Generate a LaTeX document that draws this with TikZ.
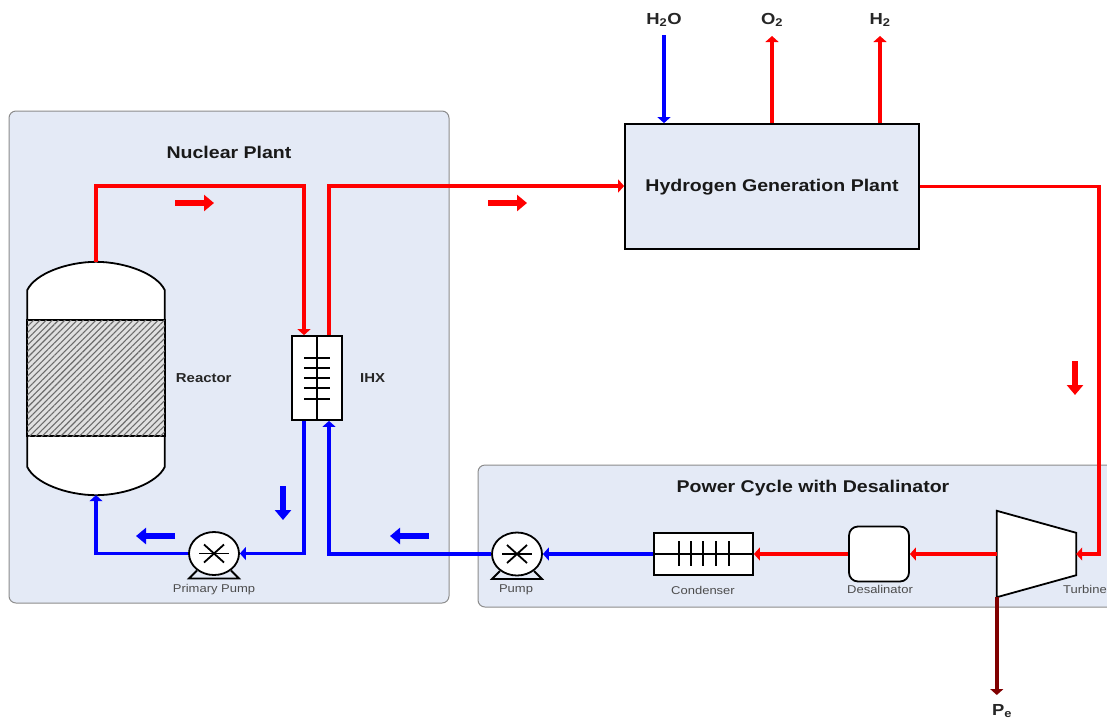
\documentclass[tikz,border=0pt]{standalone}
\usepackage{fontspec}
\setmainfont[FakeStretch=1.15]{Liberation Sans}
\usetikzlibrary{arrows.meta,%
                shapes.geometric,patterns.meta,positioning}
\definecolor{panelblue}{HTML}{E4EAF6}
\definecolor{panelline}{HTML}{8C8C8C}
\definecolor{hotred}{rgb}{1,0,0}
\definecolor{coldblue}{rgb}{0,0,1}
\definecolor{powerred}{HTML}{800000}

\begin{document}
\begin{tikzpicture}[x = 1 pt, y = -1 pt, node distance = 2 pt]
  \useasboundingbox (0,0) rectangle (1107,721);
  \tikzset{PanelStyle/.style = {draw           = panelline,
                                fill           = panelblue,
                                line width     = 1 pt,
                                rounded corners = 7 pt}}
  \tikzset{BoxStyle/.style   = {draw           = black,
                                fill           = white,
                                line width     = 1.8 pt,
                                inner sep      = 0 pt}}
  \tikzset{PumpStyle/.style  = {BoxStyle,
                                shape          = ellipse,
                                minimum width  = 50 pt,
                                minimum height = 43 pt}}
  \tikzset{TitleStyle/.style = {font = \bfseries\fontsize{17}{20}\selectfont,
                                text = black!90, inner sep = 0 pt}}
  \tikzset{NameStyle/.style  = {font = \bfseries\fontsize{13}{16}\selectfont,
                                text = black!85, inner sep = 0 pt}}
  \tikzset{FormulaStyle/.style = {font = \bfseries\fontsize{16}{19}\selectfont,
                                text = black!85, inner sep = 0 pt}}
  \tikzset{SmallStyle/.style = {font = \fontsize{11.3}{13}\selectfont,
                                text = black!70, inner sep = 0 pt}}
  \tikzset{HotPipe/.style    = {draw = hotred, line width = 3.6 pt,
                                -{Triangle[width=13pt,length=6pt]}}}
  \tikzset{ColdPipe/.style   = {HotPipe, draw = coldblue}}
  \tikzset{FlowStyle/.style  = {line width = 6 pt,
                                -{Triangle[width=16pt,length=10pt]}}}

  % panels
  \draw[PanelStyle] (9,111) rectangle (449,603);
  \draw[PanelStyle] (478,465) rectangle (1125,607);
  \node[TitleStyle] (NuclearTitle) at (229,152) {Nuclear Plant};
  \node[TitleStyle] (PowerTitle) at (813,488.5) {Power Cycle with Desalinator};

  % reactor
  \node[minimum width = 137 pt, minimum height = 233 pt, inner sep = 0 pt]
       (Reactor) at (96,378.5) {};
  \draw[BoxStyle] (Reactor.west |- 0,290)
       .. controls (35,274) and (66,262) .. (Reactor.north)
       .. controls (126,262) and (157,274) .. (Reactor.east |- 0,290)
       -- (Reactor.east |- 0,467)
       .. controls (157,483) and (126,495) .. (Reactor.south)
       .. controls (66,495) and (35,483) .. (Reactor.west |- 0,467) -- cycle;
  \draw[BoxStyle, fill = black!12,
        postaction = {pattern = {Lines[angle=45,distance=4.4pt,line width=1.1pt]},
                      pattern color = black!58}]
       (Reactor.west |- 0,320) rectangle (Reactor.east |- 0,436);
  \node[NameStyle, right = 11 pt of Reactor.east] (ReactorName) {Reactor};

  % intermediate heat exchanger
  \node[BoxStyle, minimum width = 50 pt, minimum height = 84 pt] (IHX) at (317,378) {};
  \draw[line width = 1.8 pt] (IHX.north) -- (IHX.south);
  \foreach \y in {358,368,378,388,399}
     \draw[line width = 1.8 pt] (304,\y) -- (330,\y);
  \node[NameStyle, right = 17 pt of IHX.east] (IHXName) {IHX};

  % pumps
  \node[PumpStyle] (PrimaryPump) at (214,553.5) {};
  \node[PumpStyle] (Pump) at (517,554) {};
  \foreach \p in {PrimaryPump,Pump}
  {
     \draw[BoxStyle, fill = none] ([shift={(-17,17)}]\p.center) -- ([shift={(-25,25)}]\p.center)
                  -- ([shift={(25,25)}]\p.center) -- ([shift={(17,17)}]\p.center);
     \draw[line width = 1.8 pt] ([xshift=-15pt]\p.center) -- ([xshift=15pt]\p.center);
     \draw[line width = 1.8 pt] ([shift={(-10,-9)}]\p.center) -- ([shift={(10,9)}]\p.center);
     \draw[line width = 1.8 pt] ([shift={(-10,9)}]\p.center) -- ([shift={(10,-9)}]\p.center);
  }
  \node[SmallStyle] (PrimaryPumpName) at (214,589.5) {Primary Pump};
  \node[SmallStyle] (PumpName) at (516,589.5) {Pump};

  % power cycle
  \node[BoxStyle, minimum width = 99 pt, minimum height = 42 pt] (Condenser) at (703.5,554) {};
  \draw[line width = 1.8 pt] (Condenser.west) -- (Condenser.east);
  \foreach \x in {679,691,703,716,729}
     \draw[line width = 1.8 pt] (\x,541) -- (\x,566);
  \node[SmallStyle] (CondenserName) at (703,590) {Condenser};
  \node[BoxStyle, rounded corners = 9 pt, minimum width = 60 pt, minimum height = 55 pt]
       (Desalinator) at (879,554) {};
  \node[SmallStyle] (DesalinatorName) at (880,589.5) {Desalinator};
  \node[minimum width = 79 pt, minimum height = 86 pt, inner sep = 0 pt]
       (Turbine) at (1036.5,554) {};
  \draw[BoxStyle] (Turbine.north west) -- ([yshift=-22pt]Turbine.north east)
       -- ([yshift=22pt]Turbine.south east) -- (Turbine.south west) -- cycle;
  \node[SmallStyle] (TurbineName) at (1085,589.5) {Turbine};

  % hydrogen plant
  \node[draw, fill = panelblue, line width = 1.8 pt, minimum width = 294 pt,
        minimum height = 125 pt, inner sep = 0 pt] (Hydrogen) at (772,186.5) {};
  \node[TitleStyle] (HydrogenName) at (772,187.5) {Hydrogen Generation Plant};
  \node[FormulaStyle] (Water) at (664,20) {H\textsubscript{2}O};
  \node[FormulaStyle] (Oxygen) at (772,20) {O\textsubscript{2}};
  \node[FormulaStyle] (HydrogenOut) at (880,20) {H\textsubscript{2}};
  \node[FormulaStyle] (PowerOut) at (1002,711) {P\textsubscript{e}};

  \coordinate (WaterEnd) at (664,35);
  \coordinate (OxygenEnd) at (772,36);
  \coordinate (HydrogenEnd) at (880,36);
  \coordinate (PowerEnd) at (997,695);
  \coordinate (HotBendA) at (304,186);
  \coordinate (HotBendB) at (329,186);
  \coordinate (HotBendC) at (1099,186.5);
  \coordinate (ColdBendA) at (304,553.5);
  \coordinate (ColdBendB) at (329,554);
  \coordinate (ColdBendC) at (96,553.5);

  % pipes
  \draw[HotPipe] (Reactor.north) |- (HotBendA) -- ([xshift=-13pt]IHX.north);
  \draw[HotPipe] ([xshift=12pt]IHX.north) -- (HotBendB) -- (Hydrogen.west |- HotBendB);
  \draw[HotPipe] (Hydrogen.east) -- (HotBendC) |- (Turbine.east);
  \draw[HotPipe] (Turbine.west) -- (Desalinator.east);
  \draw[HotPipe] (Desalinator.west) -- (Condenser.east);
  \draw[ColdPipe] (Condenser.west) -- (Pump.east);
  \draw[ColdPipe] (Pump.west) -- (ColdBendB) -- ([xshift=12pt]IHX.south);
  \draw[ColdPipe] ([xshift=-13pt]IHX.south) -- (ColdBendA) -- (PrimaryPump.east);
  \draw[ColdPipe] (PrimaryPump.west) -- (ColdBendC) -- (Reactor.south);
  \draw[ColdPipe] (WaterEnd) -- (WaterEnd |- Hydrogen.north);
  \draw[HotPipe] (OxygenEnd |- Hydrogen.north) -- (OxygenEnd);
  \draw[HotPipe] (HydrogenEnd |- Hydrogen.north) -- (HydrogenEnd);
  \draw[HotPipe, draw = powerred] (Turbine.south west) -- (Turbine.south west |- PowerEnd);

  % flow direction
  \coordinate (FlowA) at (175,203);   \coordinate (FlowAEnd) at (214,203);
  \coordinate (FlowB) at (488,203);   \coordinate (FlowBEnd) at (527,203);
  \coordinate (FlowC) at (1075,361);  \coordinate (FlowCEnd) at (1075,395);
  \coordinate (FlowD) at (283,486);   \coordinate (FlowDEnd) at (283,520);
  \coordinate (FlowE) at (175,536);   \coordinate (FlowEEnd) at (136,536);
  \coordinate (FlowF) at (429,536);   \coordinate (FlowFEnd) at (390,536);
  \foreach \a/\c in {FlowA/hotred,FlowB/hotred,FlowC/hotred,
                     FlowD/coldblue,FlowE/coldblue,FlowF/coldblue}
     \draw[FlowStyle, draw = \c] (\a) -- (\a End);
\end{tikzpicture}
\end{document}
